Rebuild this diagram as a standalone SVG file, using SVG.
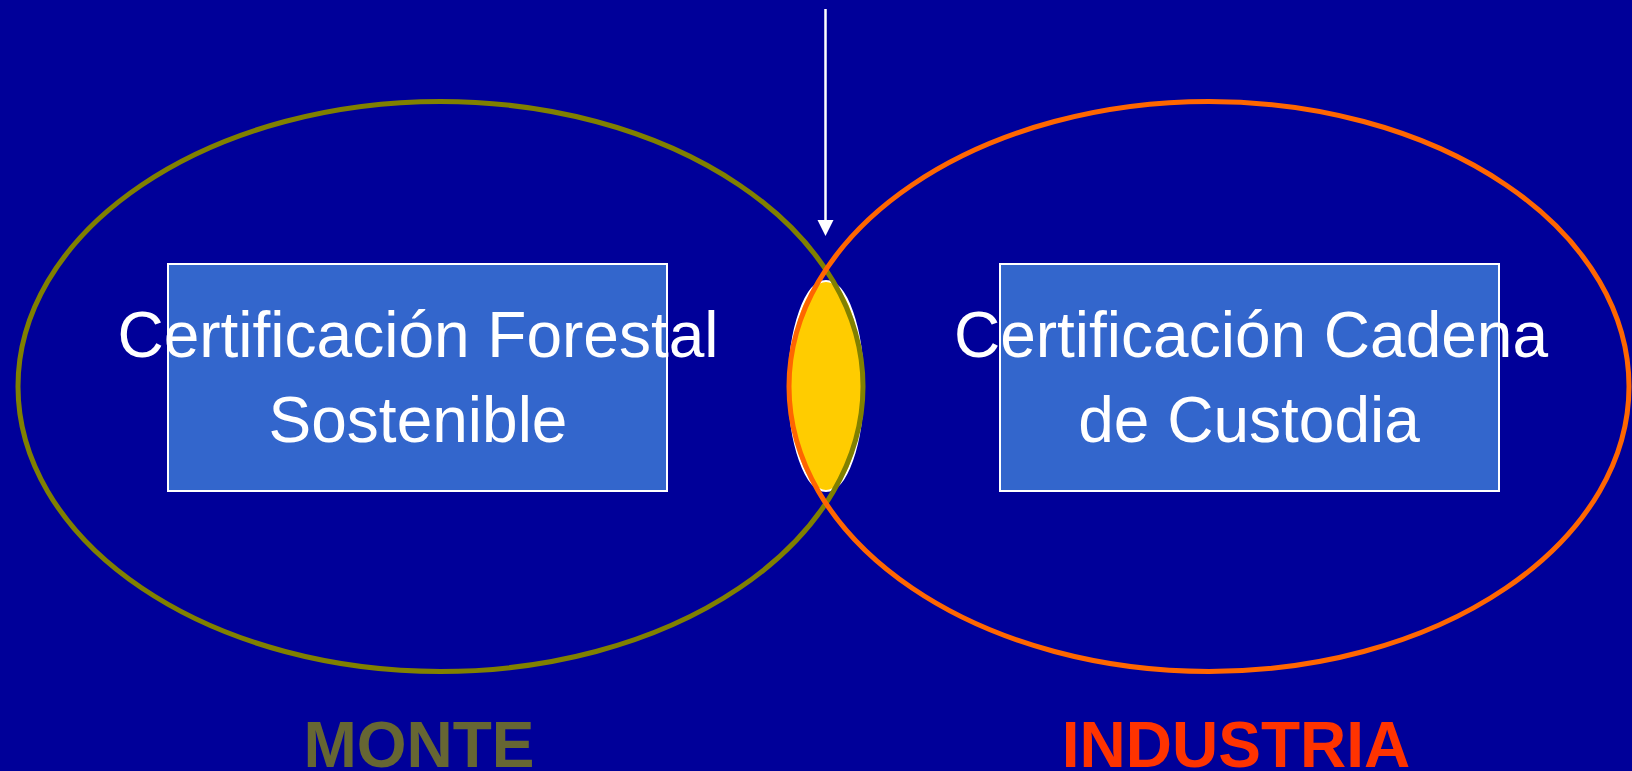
<svg xmlns="http://www.w3.org/2000/svg" width="1632" height="771" viewBox="0 0 1632 771">
  <defs>
    <style>
      .box { fill: #3366CC; stroke: #FFFFFF; stroke-width: 2; }
      .boxtext { font-family: "Liberation Sans", Arial, sans-serif; font-size: 64px; fill: #FFFFFF; text-anchor: middle; }
      .label { font-family: "Liberation Sans", Arial, sans-serif; font-size: 64px; font-weight: bold; text-anchor: middle; }
      .ring { fill: none; stroke-width: 5; }
    </style>
  </defs>
  <rect x="0" y="0" width="1632" height="771" fill="#000099"/>

  <g id="intersection">
    <ellipse cx="826" cy="386" rx="37" ry="105" fill="#FFCC00" stroke="#FFFFFF" stroke-width="2"/>
  </g>

  <g id="monte">
    <ellipse class="ring" cx="440.5" cy="386.5" rx="422.5" ry="285" stroke="#808000"/>
    <text class="label" x="419" y="767" fill="#666633">MONTE</text>
  </g>

  <g id="industria">
    <ellipse class="ring" cx="1209" cy="386.5" rx="420" ry="285" stroke="#FF6600"/>
    <text class="label" x="1236" y="767" fill="#FF3300">INDUSTRIA</text>
  </g>

  <g id="forestal">
    <rect class="box" x="168" y="264" width="499" height="227"/>
    <text class="boxtext" x="418" y="357">Certificación Forestal</text>
    <text class="boxtext" x="418" y="442">Sostenible</text>
  </g>

  <g id="cadena">
    <rect class="box" x="1000" y="264" width="499" height="227"/>
    <text class="boxtext" x="1251" y="357">Certificación Cadena</text>
    <text class="boxtext" x="1249" y="442">de Custodia</text>
  </g>

  <g id="connectors">
    <line x1="825.5" y1="9" x2="825.5" y2="222" stroke="#FFFFFF" stroke-width="2.5"/>
    <polygon points="817.5,220 833.5,220 825.5,236" fill="#FFFFFF"/>
  </g>
</svg>
